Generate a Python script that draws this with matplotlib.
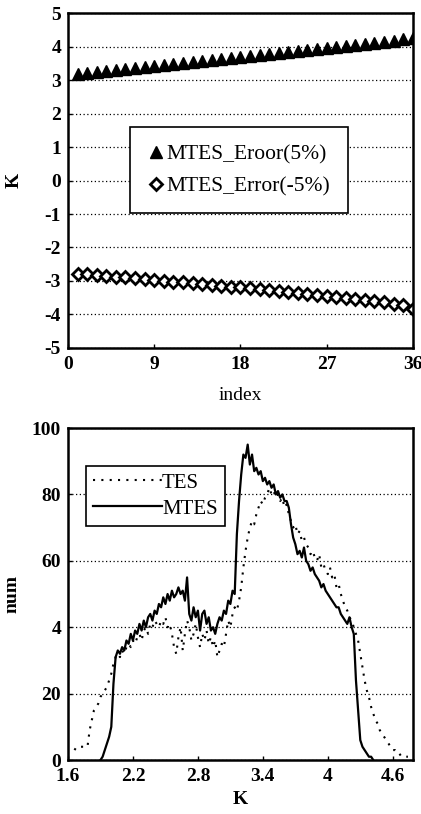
import numpy as np
import matplotlib
matplotlib.use('Agg')
import matplotlib.pyplot as plt

plt.rcParams['font.family'] = ['Liberation Serif', 'DejaVu Serif']
plt.rcParams['font.size'] = 14
plt.rcParams['axes.unicode_minus'] = False

# top panel: error vs index
index = list(range(1, 37))
err_plus = [3.18, 3.22, 3.25, 3.28, 3.30, 3.33, 3.36, 3.40, 3.42, 3.46,
            3.49, 3.52, 3.54, 3.57, 3.60, 3.63, 3.66, 3.68, 3.71, 3.74,
            3.77, 3.80, 3.83, 3.86, 3.89, 3.92, 3.95, 3.98, 4.01, 4.04,
            4.07, 4.10, 4.14, 4.17, 4.21, 4.25]
err_minus = [-2.78, -2.80, -2.83, -2.84, -2.87, -2.88, -2.92, -2.94, -2.96, -2.99,
             -3.02, -3.04, -3.07, -3.10, -3.13, -3.15, -3.17, -3.19, -3.22, -3.25,
             -3.28, -3.31, -3.33, -3.36, -3.39, -3.42, -3.45, -3.48, -3.51, -3.54,
             -3.58, -3.61, -3.64, -3.68, -3.73, -3.83]

# bottom panel: distribution of K
k_start, k_step, n_bins = 1.66, 0.02, 155
nan = np.nan
mtes = [nan, nan, nan, nan, nan, nan, nan, nan, nan, nan,
        nan, nan, 0, 1, 3, 5, 7, 10, 23, 31,
        33, 32, 34, 33, 36, 35, 38, 36, 39, 38,
        41, 39, 42, 40, 43, 44, 42, 45, 44, 47,
        46, 49, 47, 50, 48, 51, 49, 50, 52, 50,
        51, 48, 55, 44, 42, 46, 43, 45, 39, 44,
        45, 41, 43, 39, 40, 38, 41, 43, 42, 45,
        44, 48, 47, 51, 50, 68, 78, 86, 92, 91,
        95, 89, 92, 87, 88, 86, 87, 84, 85, 83,
        84, 82, 83, 80, 81, 79, 80, 78, 78, 76,
        71, 67, 65, 62, 63, 61, 64, 60, 59, 57,
        58, 56, 55, 54, 52, 53, 51, 50, 49, 48,
        47, 46, 46, 44, 43, 42, 41, 43, 40, 38,
        24, 15, 6, 4, 3, 2, 1, 1, 0, nan,
        nan, nan, nan, nan, nan, nan, nan, nan, nan, nan,
        nan, nan, nan, nan, nan]
tes = [3, 4, 4, 4, 4, 4, 4, 9, 12, 15,
       16, 17, 19, 20, 21, 22, 24, 26, 29, 31,
       32, 31, 33, 32, 34, 35, 34, 36, 35, 37,
       38, 36, 39, 40, 38, 41, 40, 42, 41, 40,
       42, 41, 43, 40, 41, 38, 34, 32, 37, 40,
       33, 38, 42, 40, 36, 38, 41, 37, 34, 38,
       36, 39, 35, 37, 34, 36, 31, 33, 35, 34,
       38, 42, 40, 44, 46, 45, 48, 52, 58, 63,
       67, 70, 72, 71, 74, 76, 78, 77, 79, 80,
       82, 80, 81, 79, 80, 78, 79, 76, 77, 74,
       72, 70, 71, 68, 69, 66, 67, 65, 64, 62,
       63, 61, 60, 62, 58, 59, 57, 56, 58, 55,
       56, 52, 53, 50, 48, 46, 45, 43, 42, 40,
       38, 36, 32, 28, 24, 21, 19, 16, 14, 12,
       11, 9, 8, 7, 6, 5, 4, 3, 3, 2,
       2, 1, 1, 1, 1]
k = k_start + k_step * np.arange(n_bins)

top_yticks = [-5, -4, -3, -2, -1, 0, 1, 2, 3, 4, 5]
top_xticks = [0, 9, 18, 27, 36]
bot_yticks = [0, 20, 40, 60, 80, 100]
bot_yticklabels = ['0', '20', '4', '60', '80', '100']
bot_xticks = [1.6, 2.2, 2.8, 3.4, 4.0, 4.6]
bot_xticklabels = ['1.6', '2.2', '2.8', '3.4', '4', '4.6']

fig = plt.figure(figsize=(4.21, 8.14), dpi=100)
ax1 = fig.add_axes([0.1615, 0.5725, 0.819, 0.4115])
ax2 = fig.add_axes([0.1615, 0.0663, 0.819, 0.4079])

for ax in (ax1, ax2):
    for s in ax.spines.values():
        s.set_linewidth(1.8)
    ax.tick_params(direction='in', length=3, width=1)
    ax.tick_params(axis='x', pad=6)
    ax.tick_params(axis='y', pad=5)

ax1.plot(index, err_plus, linestyle='none', marker='^', color='black',
         markersize=8.5, label='MTES_Eroor(5%)')
ax1.plot(index, err_minus, linestyle='none', marker='D', markerfacecolor='white',
         markeredgecolor='black', markeredgewidth=2, markersize=6.5,
         label='MTES_Error(-5%)')
ax1.set_xlim(0, 36)
ax1.set_ylim(-5, 5)
ax1.set_xticks(top_xticks)
ax1.set_yticks(top_yticks)
ax1.grid(axis='y', linestyle=(0, (1, 2)), color='black', linewidth=0.9)
ax1.set_xlabel('index', labelpad=10)
ax1.set_ylabel('K', labelpad=16, fontweight='bold')
leg1 = ax1.legend(loc='upper left', bbox_to_anchor=(0.18, 0.66), fancybox=False,
                  framealpha=1, edgecolor='black', handlelength=0.8,
                  handletextpad=0.1, borderpad=0.8, labelspacing=0.55,
                  borderaxespad=0, fontsize=15.5)
leg1.get_frame().set_linewidth(1.2)

ax2.plot(k, tes, color='black', linestyle=(0, (1, 3)), linewidth=1.5, label='TES')
ax2.plot(k, mtes, color='black', linestyle='-', linewidth=1.6, label='MTES')
ax2.set_xlim(1.6, 4.785)
ax2.set_ylim(0, 100)
ax2.set_xticks(bot_xticks)
ax2.set_xticklabels(bot_xticklabels)
ax2.set_yticks(bot_yticks)
ax2.set_yticklabels(bot_yticklabels)
ax2.grid(axis='y', linestyle=(0, (1, 2)), color='black', linewidth=0.9)
ax2.set_xlabel('K', labelpad=4, fontweight='bold')
ax2.set_ylabel('num', labelpad=8, fontweight='bold')
leg2 = ax2.legend(loc='upper left', bbox_to_anchor=(0.052, 0.886), fancybox=False,
                  framealpha=1, edgecolor='black', handlelength=3.3,
                  handletextpad=0.0, borderpad=0.35, labelspacing=0.3,
                  borderaxespad=0, fontsize=15)
leg2.get_frame().set_linewidth(1.2)

for ax in (ax1, ax2):
    for lab in ax.get_xticklabels() + ax.get_yticklabels():
        lab.set_fontweight('bold')
        lab.set_fontsize(14)

fig.savefig('out.png', dpi=100)
